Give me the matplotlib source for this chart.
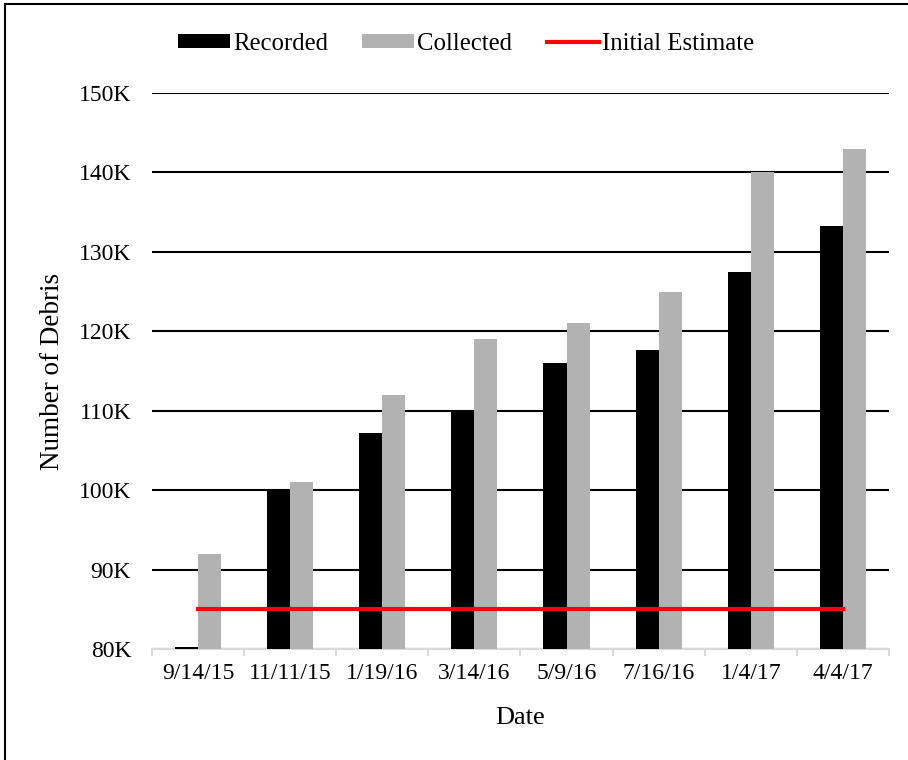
import numpy as np
import matplotlib
matplotlib.use("Agg")
import matplotlib.pyplot as plt
from matplotlib.patches import Rectangle

plt.rcParams['font.family'] = ['Liberation Serif', 'DejaVu Serif']

# data
dates = ['9/14/15', '11/11/15', '1/19/16', '3/14/16', '5/9/16', '7/16/16', '1/4/17', '4/4/17']
recorded = [80250, 99900, 107200, 110000, 116000, 117600, 127500, 133300]
collected = [92000, 101000, 112000, 119000, 121000, 125000, 140000, 143000]
initial_estimate = 85000
yticks = [80000, 90000, 100000, 110000, 120000, 130000, 140000, 150000]

fig = plt.figure(figsize=(9.08, 7.6), dpi=100)
ax = fig.add_axes([0.1674, 0.1461, 0.8116, 0.7315])

x = np.arange(len(dates))
w = 0.25
base = yticks[0]
b1 = ax.bar(x - w / 2, np.array(recorded) - base, w, bottom=base, color='black',
            label='Recorded', zorder=3)
b2 = ax.bar(x + w / 2, np.array(collected) - base, w, bottom=base, color='#b2b2b2',
            label='Collected', zorder=3)
l1, = ax.plot([x[0], x[-1]], [initial_estimate] * 2, color='red', lw=3,
              label='Initial Estimate', zorder=4)

ax.set_ylim(yticks[0], yticks[-1])
ax.set_xlim(-0.5, len(dates) - 0.5)
ax.set_yticks(yticks)
ax.set_yticklabels([f'{int(v / 1000)}K' for v in yticks])
ax.set_xticks(x)
ax.set_xticklabels(dates)
ax.set_xticks(np.arange(-0.5, len(dates)), minor=True)
ax.tick_params(axis='x', which='major', length=0, pad=10, labelsize=17)
ax.tick_params(axis='x', which='minor', length=5, width=1.5, color='#d9d9d9')
ax.tick_params(axis='y', length=0, pad=15, labelsize=17)

ax.grid(axis='y', color='black', lw=1.5, zorder=1)
ax.set_axisbelow(True)
for s in ['left', 'right', 'top']:
    ax.spines[s].set_visible(False)
ax.spines['bottom'].set_color('#d9d9d9')
ax.spines['bottom'].set_linewidth(1.5)
ax.spines['bottom'].set_zorder(2)

ax.set_xlabel('Date', fontsize=19, labelpad=17)
ax.set_ylabel('Number of Debris', fontsize=19.5, labelpad=10)

ax.legend([b1, b2, l1], ['Recorded', 'Collected', 'Initial Estimate'],
          loc='center', bbox_to_anchor=(466 / 908, 1 - 44 / 760),
          bbox_transform=fig.transFigure, ncol=3, frameon=False,
          fontsize=17.8, handlelength=2.1, handleheight=0.5, handletextpad=0.12,
          columnspacing=1.4, borderaxespad=0, borderpad=0)

# outer frame around the chart area (right/bottom edges fall outside the image)
fig.patches.append(Rectangle((0.0055, -0.05), 1.2, 1.0441, transform=fig.transFigure,
                             fill=False, edgecolor='black', lw=1.5))

fig.savefig('out.png', dpi=100)
